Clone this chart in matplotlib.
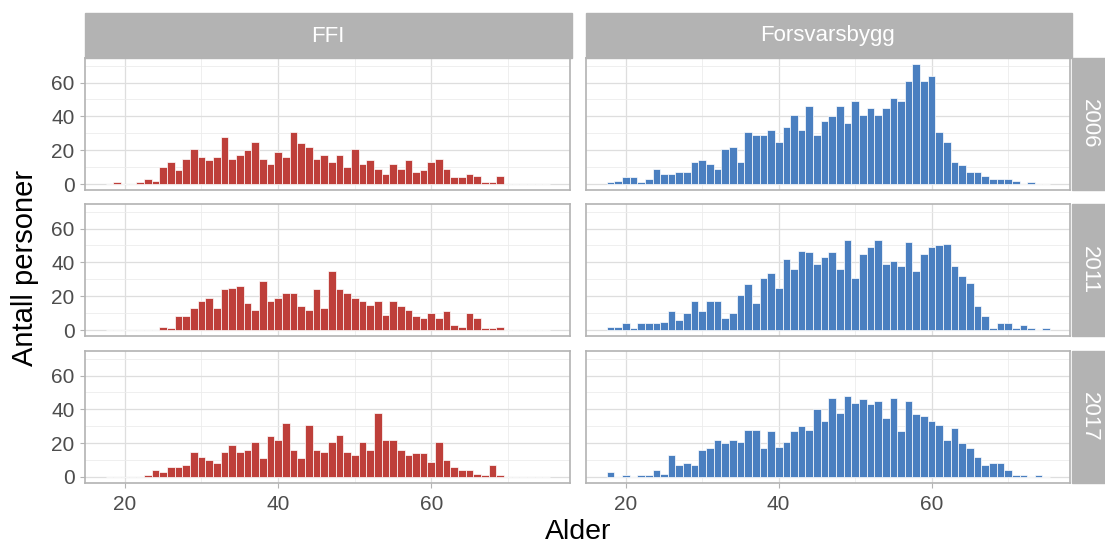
import numpy as np
import matplotlib
matplotlib.use('Agg')
import matplotlib.pyplot as plt
from matplotlib.patches import Rectangle

plt.rcParams['font.family'] = ['Liberation Sans', 'DejaVu Sans']

# age bins (1 year wide), shared by all panels
ages = list(range(18, 76))

units = ['FFI', 'Forsvarsbygg']
years = ['2006', '2011', '2017']

ffi_2006 = [0, 1, 0, 0, 1, 3, 2, 10, 13, 8,
            15, 21, 16, 14, 16, 28, 15, 17, 20, 25,
            15, 12, 19, 16, 31, 24, 22, 15, 17, 13,
            17, 10, 21, 12, 14, 9, 6, 12, 9, 14,
            7, 8, 13, 15, 9, 4, 4, 6, 5, 1,
            1, 5, 0, 0, 0, 0, 0, 0]
ffi_2011 = [0, 0, 0, 0, 0, 0, 0, 2, 1, 8,
            8, 13, 17, 19, 13, 24, 25, 26, 16, 12,
            29, 17, 19, 22, 22, 14, 12, 24, 13, 35,
            24, 22, 19, 17, 15, 17, 9, 17, 14, 12,
            8, 7, 10, 7, 11, 3, 2, 10, 7, 1,
            1, 2, 0, 0, 0, 0, 0, 0]
ffi_2017 = [0, 0, 0, 0, 0, 1, 4, 3, 6, 6,
            7, 15, 12, 10, 8, 15, 19, 15, 16, 21,
            11, 24, 22, 32, 16, 11, 31, 16, 15, 21,
            25, 15, 13, 21, 16, 38, 22, 22, 16, 13,
            14, 14, 9, 21, 10, 6, 4, 4, 2, 1,
            7, 1, 0, 0, 0, 0, 0, 0]
fb_2006 = [1, 2, 4, 4, 1, 3, 9, 6, 6, 7,
           7, 13, 14, 12, 9, 21, 22, 13, 31, 29,
           29, 32, 25, 34, 41, 32, 46, 29, 37, 40,
           46, 36, 49, 41, 45, 41, 45, 51, 49, 61,
           71, 61, 64, 31, 25, 13, 11, 7, 7, 5,
           3, 3, 3, 2, 0, 1, 0, 0]
fb_2011 = [2, 2, 4, 1, 4, 4, 4, 5, 11, 6,
           10, 17, 11, 17, 17, 7, 10, 21, 27, 16,
           31, 34, 25, 42, 36, 47, 46, 39, 43, 46,
           36, 53, 31, 45, 49, 53, 39, 41, 38, 52,
           35, 45, 49, 50, 51, 38, 32, 28, 14, 8,
           1, 4, 4, 1, 3, 1, 0, 1]
fb_2017 = [3, 0, 1, 0, 1, 1, 4, 2, 13, 7,
           8, 7, 16, 17, 22, 20, 22, 21, 28, 28,
           17, 27, 18, 21, 27, 30, 28, 40, 33, 47,
           38, 48, 44, 46, 43, 45, 35, 47, 27, 45,
           37, 36, 33, 31, 22, 29, 20, 17, 12, 7,
           8, 8, 4, 1, 1, 0, 1, 0]

counts = [[ffi_2006, fb_2006], [ffi_2011, fb_2011], [ffi_2017, fb_2017]]
colors = ['#be3f3a', '#4a7fc0']

W, H = 1105, 547
fig = plt.figure(figsize=(W / 100, H / 100), dpi=100)

def box(x0, y0, x1, y1):
    # pixel box -> figure fraction rect
    return [x0 / W, 1 - y1 / H, (x1 - x0) / W, (y1 - y0) / H]

cols = [(85, 570), (586, 1070)]
rows = [(58, 190), (204, 336), (351, 483)]
border = '#b3b3b3'

for r, (y0, y1) in enumerate(rows):
    for c, (x0, x1) in enumerate(cols):
        ax = fig.add_axes(box(x0, y0, x1, y1))
        ax.bar(ages, counts[r][c], width=1, color=colors[c],
               edgecolor='white', linewidth=0.5, zorder=3)
        ax.set_xlim(14.8, 78.1)
        ax.set_ylim(-3.55, 74.55)
        ax.set_xticks([20, 40, 60])
        ax.set_xticks([30, 50, 70], minor=True)
        ax.set_yticks([0, 20, 40, 60])
        ax.set_yticks([10, 30, 50, 70], minor=True)
        ax.grid(which='major', color='#dedede', linewidth=0.9, zorder=0)
        ax.grid(which='minor', color='#ececec', linewidth=0.6, zorder=0)
        for s in ax.spines.values():
            s.set_color(border)
            s.set_linewidth(1.2)
        ax.tick_params(which='minor', length=0)
        ax.tick_params(which='major', color=border, length=3.6, width=0.8,
                       labelsize=15, labelcolor='#4d4d4d')
        ax.tick_params(axis='y', pad=4)
        ax.tick_params(axis='x', pad=5)
        if c != 0:
            ax.tick_params(axis='y', left=False, labelleft=False)
        if r != 2:
            ax.tick_params(axis='x', bottom=False, labelbottom=False)

# top strips
for c, (x0, x1) in enumerate(cols):
    fig.patches.append(Rectangle((x0 / W, 1 - 58 / H), (x1 + 2 - x0) / W, 45 / H,
                                 transform=fig.transFigure, color='#b3b3b3'))
    fig.text((x0 + x1) / 2 / W, 1 - 36 / H, units[c], color='white',
             fontsize=16, ha='center', va='center')

# right strips
for r, (y0, y1) in enumerate(rows):
    fig.patches.append(Rectangle((1072 / W, 1 - y1 / H), 33 / W, (y1 - y0) / H,
                                 transform=fig.transFigure, color='#b3b3b3'))
    fig.text(1089 / W, 1 - (y0 + y1) / 2 / H, years[r], color='white',
             fontsize=16, ha='center', va='center', rotation=-90)

fig.text(578 / W, 1 - 532 / H, 'Alder', fontsize=20.5, ha='center', va='center')
fig.text(25 / W, 1 - 268 / H, 'Antall personer', fontsize=21, ha='center',
         va='center', rotation=90)

fig.savefig('out.png', dpi=100, facecolor='white')
